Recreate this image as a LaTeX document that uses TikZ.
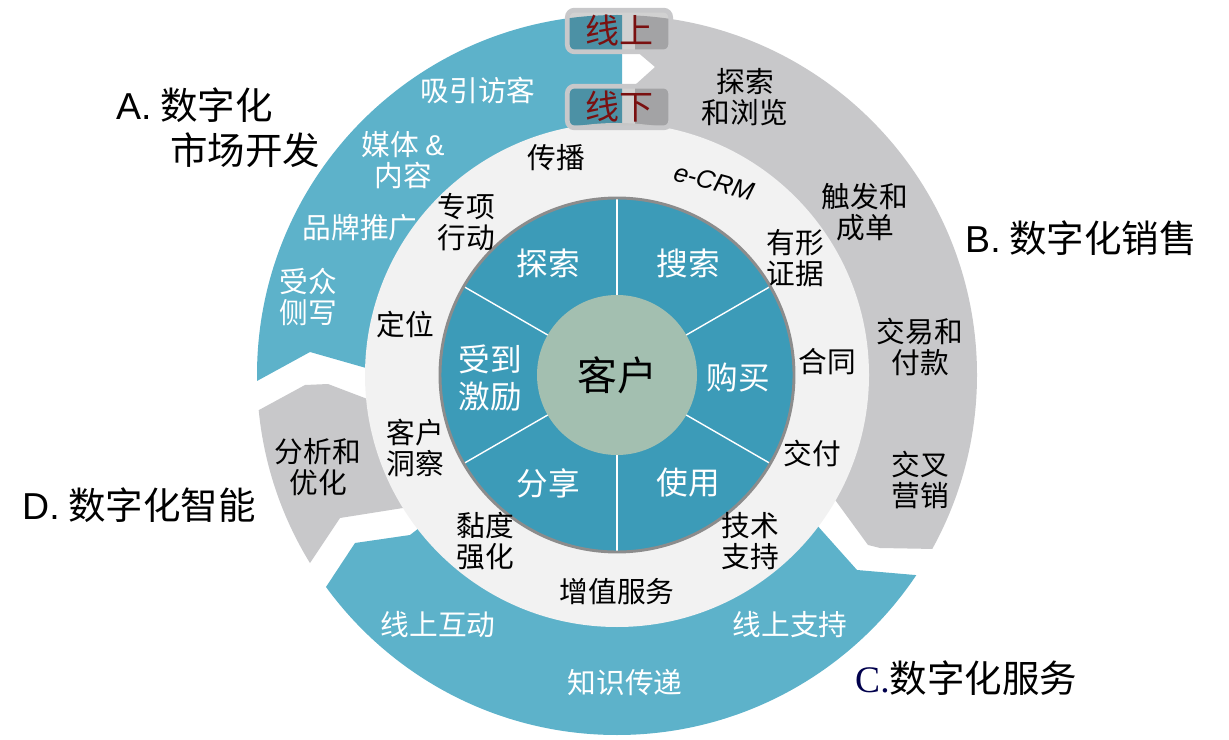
\documentclass[tikz,border=0pt]{standalone}
\usepackage{fontspec}
\setmainfont{Noto Sans CJK SC}
\newfontfamily\lat{Liberation Sans}
\newfontfamily\serifc{Liberation Serif}
\definecolor{tealA}{HTML}{5DB2CA}
\definecolor{tealB}{HTML}{3C9BB8}
\definecolor{greyB}{HTML}{C8C8CA}
\definecolor{discC}{HTML}{F2F2F2}
\definecolor{coreC}{HTML}{A3BFB0}
\definecolor{redT}{HTML}{7A1010}
\begin{document}
\begin{tikzpicture}[x=0.03cm,y=-0.03cm,
  lbl/.style={font=\fontsize{24.5}{27}\selectfont,align=center,inner sep=0pt},
  wl/.style={lbl,text=white},
  inl/.style={font=\fontsize{27}{31}\selectfont,align=center,text=white,inner sep=0pt},
  big/.style={font=\fontsize{32}{36}\selectfont,anchor=west,inner sep=0pt,align=left},
  onoff/.style={draw=greyB,line width=4pt,rounded corners=6pt,fill=black,fill opacity=0.18,text opacity=1,text=redT,font=\fontsize{29}{32}\selectfont,inner sep=0pt}]
\useasboundingbox (0,0) rectangle (1229,740);
\coordinate (O) at (617,375);
\begin{scope}
\clip (O) circle (360);
\fill[tealA] (O) -- (380,372) -- (310,352) -- (257,381) -- (150,385) -- (150,-20) -- (622,-20) -- (622,375) -- cycle;
\fill[greyB] (635,-20) -- (1100,-20) -- (1100,552) -- (880,548) -- (868,545) -- (833,497) -- (700,420) -- (635,375) -- (635,85) -- (655,67) -- (635,50) -- cycle;
\fill[tealA] (O) -- (410,535) -- (355,543) -- (324,590) -- (200,650) -- (200,800) -- (1100,800) -- (1100,578) -- (915,575) -- (857,570) -- (815,523) -- cycle;
\fill[greyB] (O) -- (370,400) -- (328,384) -- (305,385) -- (259,410) -- (150,420) -- (150,560) -- (310,563) -- (340,518) -- (403,508) -- cycle;
\end{scope}
\fill[discC] (O) circle (252);
\fill[tealB] (O) circle (177);
\foreach \a in {30,90,150,210,270,330}
  \draw[white,line width=1.2pt] (O) -- ++(\a:-177);
\draw[gray!90,line width=2.5pt] (O) circle (177);
\node[circle,fill=coreC,minimum size=160*0.03cm,inner sep=0pt,font=\fontsize{34}{38}\selectfont] (core) at (O) {客户};
% on/off boxes
\node[onoff,minimum width=3.1cm,minimum height=1.25cm] (on) at (619,31) {线上};
\node[onoff,minimum width=3.1cm,minimum height=1.25cm] (off) at (619,107) {线下};
% inner labels
\node[inl] (i1) at (548,263) {探索};
\node[inl] (i2) at (688,263) {搜索};
\node[inl] (i3) at (490,378) {受到\\激励};
\node[inl] (i4) at (738,378) {购买};
\node[inl] (i5) at (548,483) {分享};
\node[inl] (i6) at (688,483) {使用};
% disc labels
\node[lbl] (d1) at (556,158) {传播};
\node[lbl,font=\lat\itshape\fontsize{22}{24}\selectfont,rotate=-15] (d2) at (714,182) {e-CRM};
\node[lbl] (d3) at (466,222) {专项\\行动};
\node[lbl] (d4) at (795,258) {有形\\证据};
\node[lbl] (d5) at (405,325) {定位};
\node[lbl] (d6) at (827,362) {合同};
\node[lbl] (d7) at (415,448) {客户\\洞察};
\node[lbl] (d8) at (812,453) {交付};
\node[lbl] (d9) at (485,541) {黏度\\强化};
\node[lbl] (d10) at (750,541) {技术\\支持};
\node[lbl] (d11) at (617,592) {增值服务};
% outer A
\node[wl] (a1) at (478,90) {吸引访客};
\node[wl] (a2) at (403,160) {媒体 {\lat\&}\\内容};
\node[wl] (a3) at (360,228) {品牌推广};
\node[wl] (a4) at (308,297) {受众\\侧写};
% outer B
\node[lbl] (b1) at (745,97) {探索\\和浏览};
\node[lbl] (b2) at (865,212) {触发和\\成单};
\node[lbl] (b3) at (920,347) {交易和\\付款};
\node[lbl] (b4) at (920,480) {交叉\\营销};
% outer C
\node[wl] (c1) at (438,625) {线上互动};
\node[wl] (c2) at (625,683) {知识传递};
\node[wl] (c3) at (790,625) {线上支持};
% outer D
\node[lbl] (e1) at (318,467) {分析和\\优化};
% big labels
\node[big] (A1) at (116,105) {{\lat A.} 数字化};
\node[big] (A2) at (170,150) {市场开发};
\node[big] (B) at (965,238) {{\lat B.} 数字化销售};
\node[big] (C) at (855,678) {{\serifc\color{black!70!blue}C.}数字化服务};
\node[big] (D) at (22,505) {{\lat D.} 数字化智能};
\end{tikzpicture}
\end{document}
